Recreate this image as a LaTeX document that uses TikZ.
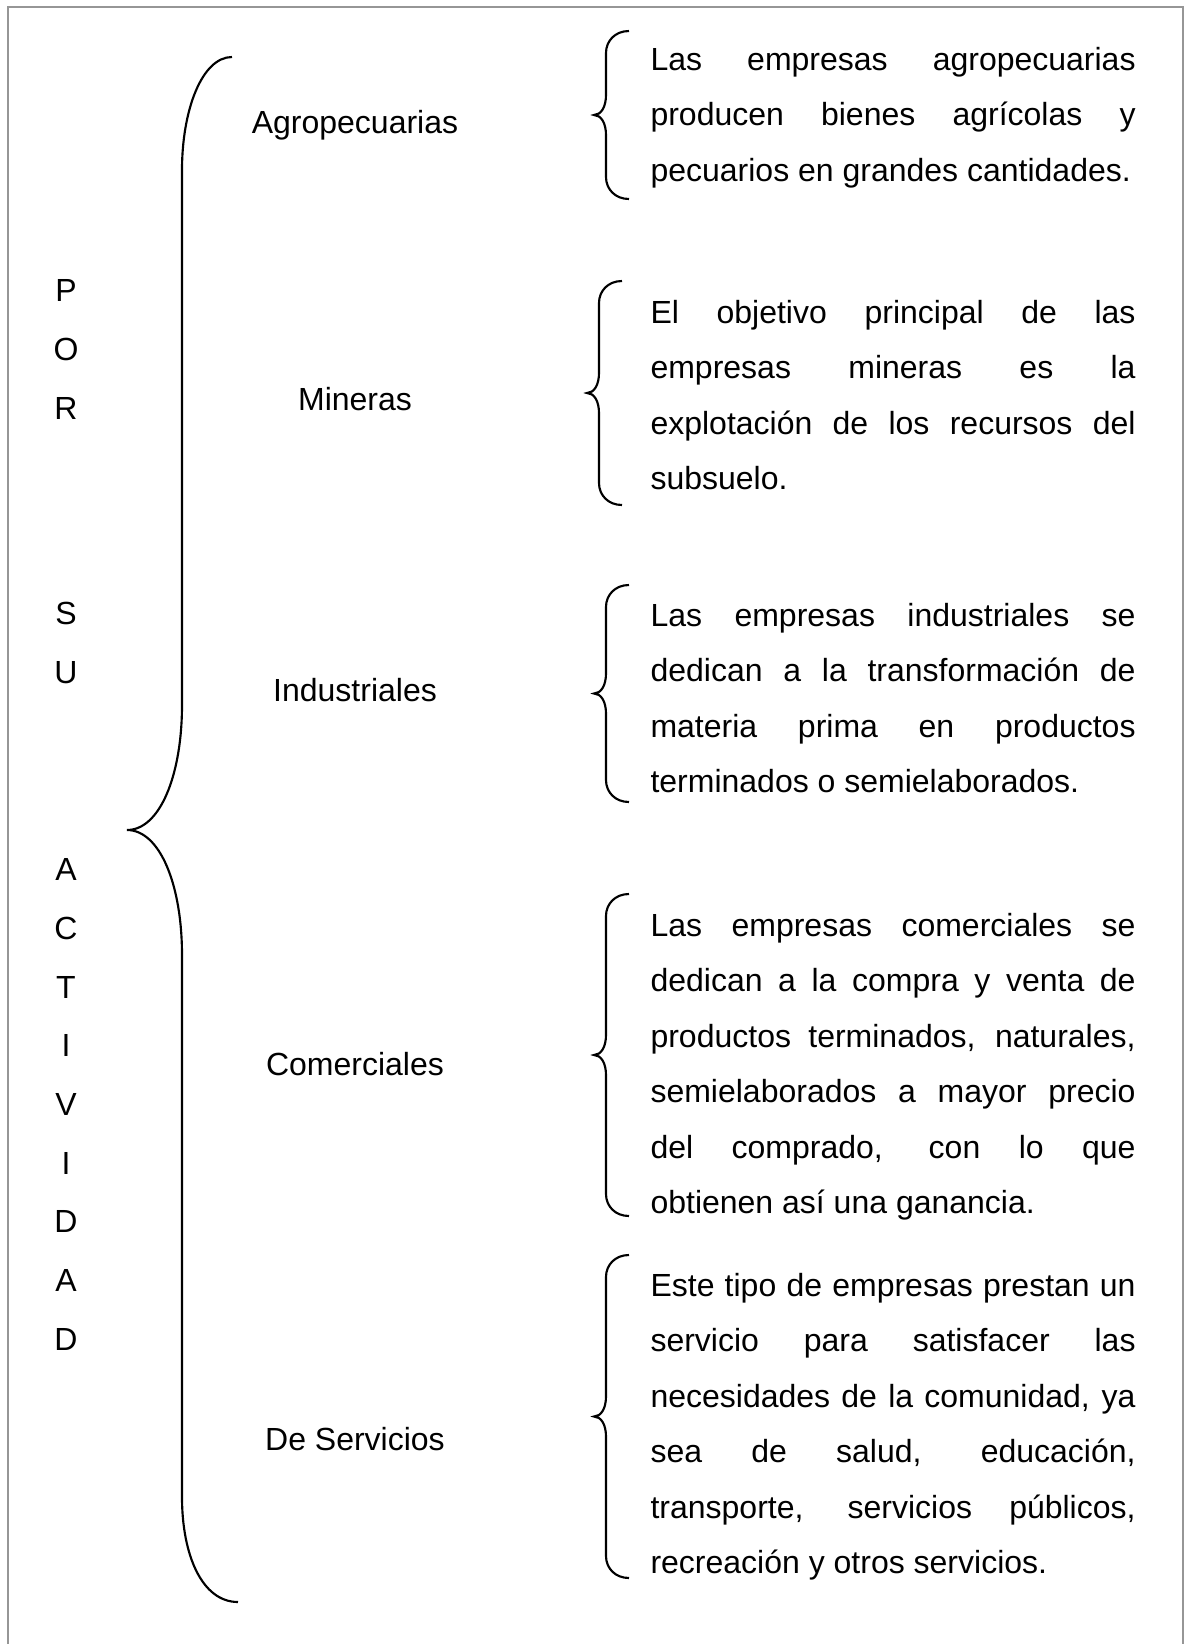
\documentclass[tikz,border=0pt]{standalone}
\usepackage{fontspec}
\setmainfont{Liberation Sans}
\usetikzlibrary{positioning}
\definecolor{framegray}{RGB}{150,150,150}
\tolerance=10000
\hbadness=10000
\hyphenpenalty=10000

\begin{document}
\begin{tikzpicture}[
    x=0.375pt, y=-0.375pt,
    category/.style={
        font=\fontsize{12}{14}\selectfont,
        inner sep=0pt,
        anchor=base
    },
    desc/.style={
        font=\fontsize{12}{20.8}\selectfont,
        text width=181.9pt,
        align=justify,
        inner sep=0pt,
        anchor=base west
    },
    letter/.style={
        font=\fontsize{12}{14}\selectfont,
        inner sep=0pt,
        anchor=base
    },
    brace/.style={
        draw=black,
        line width=0.8pt
    }
]

\useasboundingbox (0,0) rectangle (1190,1644);

% Frame (open at the bottom)
\draw[framegray, line width=0.75pt] (8,1644) -- (8,7) -- (1183,7) -- (1183,1644);

% Vertical title
\foreach \y/\c in {290/P,349/O,408/R,613/S,672/U,869/A,928/C,987/T,1045/I,1104/V,1163/I,1221/D,1280/A,1339/D} {
    \node[letter] (let\y) at (66, \y+11.5) {\c};
}

% Big brace
\draw[brace] (232,57) .. controls (202,57) and (182,110) .. (182,170)
    -- (182,705) .. controls (182,775) and (160,830) .. (127,830)
    .. controls (160,830) and (182,885) .. (182,955)
    -- (182,1497) .. controls (182,1555) and (202,1602) .. (238,1602);

% Categories
\node[category] (agro) at (355,133.5) {Agropecuarias};
\node[category] (mineras) at (355,410.5) {Mineras};
\node[category] (industria) at (355,701.5) {Industriales};
\node[category] (comercio) at (355,1075.5) {Comerciales};
\node[category] (servicios) at (355,1450.5) {De Servicios};

% Small braces
\foreach \xe/\top/\bot in {629/31/199, 622/281/505, 629/585/802, 629/894/1216, 629/1255/1578} {
    \pgfmathsetmacro\run{(\bot-\top)/2-42}
    \draw[brace] (\xe,\top) .. controls +(-14,0) and +(0,-12) .. ++(-23,22)
        -- ++(0,\run) .. controls +(0,12) and +(7,0) .. ++(-12,20)
        .. controls +(7,0) and +(0,-12) .. ++(12,20)
        -- ++(0,\run) .. controls +(0,12) and +(-14,0) .. ++(23,22);
}

% Descriptions
\node[desc] (descagro) at (650,70.5) {Las empresas agropecuarias\linebreak producen bienes agrícolas y\linebreak pecuarios en grandes cantidades.};
\node[desc] (descmineras) at (650,323.5) {El objetivo principal de las\linebreak empresas mineras es la\linebreak explotación de los recursos del\linebreak subsuelo.};
\node[desc] (descindustria) at (650,626.5) {Las empresas industriales se\linebreak dedican a la transformación de\linebreak materia prima en productos\linebreak terminados o semielaborados.};
\node[desc] (desccomercio) at (650,936.5) {Las empresas comerciales se\linebreak dedican a la compra y venta de\linebreak productos terminados, naturales,\linebreak semielaborados a mayor precio\linebreak del comprado, con lo que\linebreak obtienen así una ganancia.};
\node[desc] (descservicios) at (650,1296.5) {Este tipo de empresas prestan un\linebreak servicio para satisfacer las\linebreak necesidades de la comunidad, ya\linebreak sea de salud, educación,\linebreak transporte, servicios públicos,\linebreak recreación y otros servicios.};

\end{tikzpicture}
\end{document}
